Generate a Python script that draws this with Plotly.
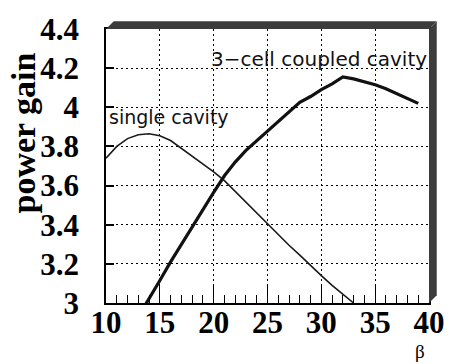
import plotly.graph_objects as go

# Data
beta_single = [10, 11, 12, 13, 14, 15, 16, 17, 18, 19, 20, 21, 22, 23, 24, 25, 26, 27, 28, 29, 30, 31, 32, 33]
gain_single = [3.74, 3.80, 3.84, 3.86, 3.865, 3.855, 3.83, 3.79, 3.75, 3.71, 3.67, 3.625, 3.57, 3.51,
               3.455, 3.40, 3.345, 3.295, 3.245, 3.19, 3.14, 3.09, 3.045, 3.0]

beta_coupled = [13, 14, 15, 16, 17, 18, 19, 20, 21, 22, 23, 24, 25, 26, 27, 28, 29, 30, 31, 32,
                33, 34, 35, 36, 37, 38, 39]
gain_coupled = [2.93, 3.02, 3.115, 3.21, 3.30, 3.39, 3.48, 3.565, 3.65, 3.72, 3.78, 3.83, 3.88, 3.93,
                3.98, 4.025, 4.055, 4.09, 4.12, 4.155, 4.145, 4.13, 4.115, 4.095, 4.07, 4.045, 4.02]

x_ticks = [10, 15, 20, 25, 30, 35, 40]
y_ticks = [3, 3.2, 3.4, 3.6, 3.8, 4, 4.2, 4.4]
y_ticktext = ["3", "3.2", "3.4", "3.6", "3.8", "4", "4.2", "4.4"]

W, H = 457, 364
L, R, T, B = 106, 17, 23, 61
pw, ph = W - L - R, H - T - B

def px(x):
    return (x - L) / pw

def py(y):
    return 1 - (y - T) / ph

fig = go.Figure()

fig.add_trace(go.Scatter(x=beta_single, y=gain_single, mode="lines",
                         line=dict(color="#1a1a1a", width=1.6), showlegend=False))
fig.add_trace(go.Scatter(x=beta_coupled, y=gain_coupled, mode="lines",
                         line=dict(color="#111111", width=3.2), showlegend=False))

tickfont = dict(family="Liberation Serif", size=31, color="black", weight="bold")

fig.update_xaxes(range=[10, 40], tickvals=x_ticks, ticktext=[str(v) for v in x_ticks],
                 ticks="inside", ticklen=19, tickwidth=1.2, tickcolor="black",
                 showline=True, linecolor="black", linewidth=1.5, mirror=True,
                 showgrid=True, gridcolor="#000000", gridwidth=1, griddash="2,3",
                 zeroline=False, tickfont=tickfont, ticklabelstandoff=-9,
                 minor=dict(dtick=1, ticks="inside", ticklen=8, tickcolor="black",
                            tickwidth=1.2, showgrid=False))
fig.update_yaxes(range=[3, 4.4], tickvals=y_ticks, ticktext=y_ticktext,
                 ticks="inside", ticklen=8, tickwidth=1.5, tickcolor="black",
                 showline=True, linecolor="black", linewidth=1.5, mirror=True,
                 showgrid=True, gridcolor="#000000", gridwidth=1, griddash="2,3",
                 zeroline=False, tickfont=tickfont, ticklabelstandoff=19)

shadow = "#3c3c3c"
fig.add_shape(type="path", xref="paper", yref="paper",
              path=f"M {px(106)} {py(23)} L {px(114)} {py(15)} L {px(448)} {py(15)} L {px(440)} {py(23)} Z",
              fillcolor=shadow, line=dict(width=0), layer="above")
fig.add_shape(type="path", xref="paper", yref="paper",
              path=f"M {px(440)} {py(23)} L {px(448)} {py(15)} L {px(448)} {py(295)} L {px(440)} {py(303)} Z",
              fillcolor=shadow, line=dict(width=0), layer="above")

# y-axis title
fig.add_annotation(x=px(21), y=py(129), xref="paper", yref="paper", text="<b>power gain</b>",
                   showarrow=False, textangle=-90, xanchor="center", yanchor="middle",
                   font=dict(family="Liberation Serif", size=34, color="black"))

annfont = dict(family="DejaVu Sans", size=19, color="#111111")
fig.add_annotation(x=10.1, y=3.95, text="single cavity", showarrow=False,
                   xanchor="left", yanchor="middle", font=annfont)
fig.add_annotation(x=19.55, y=4.245, text="3−cell coupled cavity", showarrow=False,
                   xanchor="left", yanchor="middle",
                   font=dict(family="DejaVu Sans", size=20, color="#111111"))
fig.add_annotation(x=px(431), y=py(364), xref="paper", yref="paper",
                   text="β", showarrow=False, xanchor="center", yanchor="bottom", borderpad=0,
                   font=dict(family="Liberation Serif", size=19, color="black"))

fig.update_layout(width=W, height=H, margin=dict(l=L, r=R, t=T, b=B),
                  paper_bgcolor="white", plot_bgcolor="white")

fig.write_html("out.html")
